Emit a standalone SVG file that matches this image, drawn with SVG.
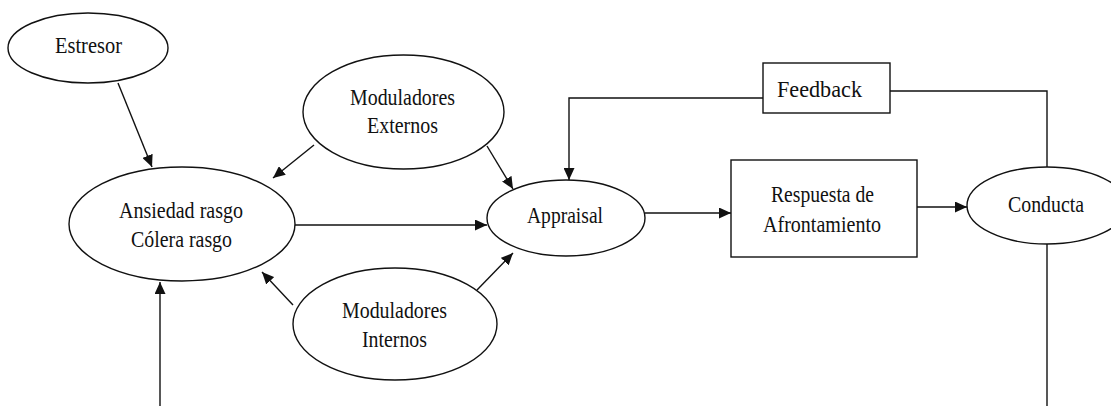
<svg xmlns="http://www.w3.org/2000/svg" width="1111" height="406" viewBox="0 0 1111 406">
<style>
.shape{fill:#fff;stroke:#111;stroke-width:1.4}
.lbl{font-family:"Liberation Serif","Times New Roman",serif;font-size:23px;fill:#111;text-anchor:middle}
.edge{fill:none;stroke:#111;stroke-width:1.4}
</style>
<defs>
<marker id="arr" markerUnits="userSpaceOnUse" markerWidth="13" markerHeight="11" refX="12" refY="5.5" orient="auto">
<path d="M0,0 L12,5.5 L0,11 z" fill="#111"/>
</marker>
</defs>
<rect width="1111" height="406" fill="#fff"/>
<g id="connectors">
<line class="edge" x1="118" y1="83" x2="152" y2="167" marker-end="url(#arr)"/>
<line class="edge" x1="314" y1="145" x2="273" y2="178" marker-end="url(#arr)"/>
<line class="edge" x1="487" y1="146" x2="513" y2="189" marker-end="url(#arr)"/>
<line class="edge" x1="295" y1="225" x2="487" y2="225" marker-end="url(#arr)"/>
<line class="edge" x1="293" y1="305" x2="262" y2="272" marker-end="url(#arr)"/>
<line class="edge" x1="477" y1="290" x2="513" y2="253" marker-end="url(#arr)"/>
<line class="edge" x1="160" y1="406" x2="160" y2="282" marker-end="url(#arr)"/>
<line class="edge" x1="645" y1="213" x2="731" y2="213" marker-end="url(#arr)"/>
<line class="edge" x1="917" y1="207" x2="967" y2="207" marker-end="url(#arr)"/>
<polyline class="edge" points="763,98 569,98 569,180" marker-end="url(#arr)"/>
<polyline class="edge" points="1047,167 1047,91 890,91"/>
<line class="edge" x1="1047" y1="244" x2="1047" y2="406"/>
</g>
<g id="estresor">
<ellipse class="shape" cx="88" cy="48" rx="80" ry="35"/>
<text class="lbl" x="88.5" y="53" textLength="67" lengthAdjust="spacingAndGlyphs">Estresor</text>
</g>
<g id="ansiedad">
<ellipse class="shape" cx="182" cy="224" rx="113" ry="57"/>
<text class="lbl" x="181" y="218" textLength="124" lengthAdjust="spacingAndGlyphs">Ansiedad rasgo</text>
<text class="lbl" x="181.5" y="247" textLength="101" lengthAdjust="spacingAndGlyphs">Cólera rasgo</text>
</g>
<g id="moduladores-externos">
<ellipse class="shape" cx="403.5" cy="112" rx="100.5" ry="57"/>
<text class="lbl" x="402.5" y="105" textLength="105" lengthAdjust="spacingAndGlyphs">Moduladores</text>
<text class="lbl" x="402.5" y="133" textLength="71" lengthAdjust="spacingAndGlyphs">Externos</text>
</g>
<g id="appraisal">
<ellipse class="shape" cx="566" cy="218" rx="79" ry="38"/>
<text class="lbl" x="565" y="223" textLength="76" lengthAdjust="spacingAndGlyphs">Appraisal</text>
</g>
<g id="moduladores-internos">
<ellipse class="shape" cx="395" cy="324" rx="102" ry="56"/>
<text class="lbl" x="394.5" y="318" textLength="105" lengthAdjust="spacingAndGlyphs">Moduladores</text>
<text class="lbl" x="394.5" y="347" textLength="65" lengthAdjust="spacingAndGlyphs">Internos</text>
</g>
<g id="respuesta">
<rect class="shape" x="731" y="160" width="186" height="97"/>
<text class="lbl" x="822.5" y="202" textLength="103" lengthAdjust="spacingAndGlyphs">Respuesta de</text>
<text class="lbl" x="822" y="232" textLength="118" lengthAdjust="spacingAndGlyphs">Afrontamiento</text>
</g>
<g id="feedback">
<rect class="shape" x="763" y="63" width="127" height="50"/>
<text class="lbl" x="819.5" y="97" textLength="85" lengthAdjust="spacingAndGlyphs">Feedback</text>
</g>
<g id="conducta">
<ellipse class="shape" cx="1047" cy="205.5" rx="80" ry="38.5"/>
<text class="lbl" x="1046" y="212" textLength="76" lengthAdjust="spacingAndGlyphs">Conducta</text>
</g>
</svg>
